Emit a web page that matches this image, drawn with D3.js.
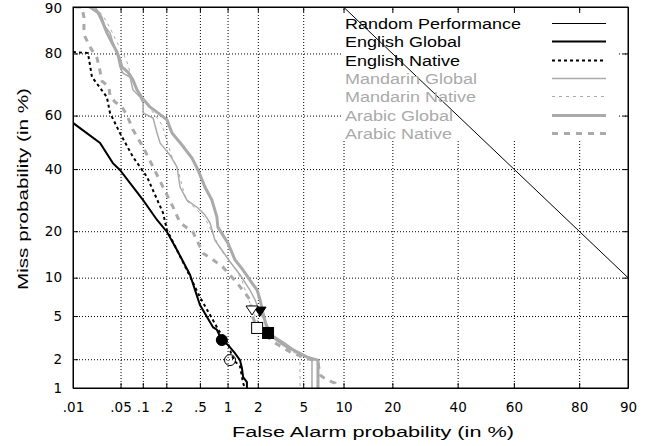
<!DOCTYPE html>
<html>
<head>
<meta charset="utf-8">
<script src="https://cdn.jsdelivr.net/npm/d3@7"></script>
<style>
  body { margin: 0; background: #fff; }
  svg { display: block; font-family: "Liberation Sans", Arial, Helvetica, sans-serif; }
  .grid line { stroke: #000; stroke-dasharray: 1,2; stroke-width: 1; }
  .grid path { display: none; }
  .axis path, .axis line { stroke: #000; }
</style>
</head>
<body>
<svg id="viz"></svg>
<script>
// tick values (in %)
const xTicks = [0.01, 0.05, 0.1, 0.2, 0.5, 1, 2, 5, 10, 20, 40, 60, 80, 90];
const xTickLabels = [".01", ".05", ".1", ".2", ".5", "1", "2", "5", "10", "20", "40", "60", "80", "90"];
const yTicks = [1, 2, 5, 10, 20, 40, 60, 80, 90];
const yTickLabels = ["1", "2", "5", "10", "20", "40", "60", "80", "90"];

// DET curves: [false alarm %, miss %]
const randomPerf = [[10, 90], [90, 10]];
const englishGlobal = [[0.01, 57.3], [0.0255, 49.8], [0.039, 42.2], [0.049, 39.7], [0.101, 29.2], [0.153, 23.1],
  [0.204, 19.8], [0.27, 15.4], [0.385, 10.5], [0.50, 6.2], [0.70, 4.0], [0.77, 3.8], [0.87, 3.06], [1.01, 2.75],
  [1.19, 2.30], [1.34, 1.96], [1.40, 1.63], [1.44, 1.31], [1.57, 1.16], [1.57, 1.0]];
const englishNative = [[0.01, 80.4], [0.0169, 80.1], [0.0194, 73.2], [0.032, 66.6], [0.0355, 61.0], [0.049, 53.5],
  [0.074, 44.5], [0.114, 37.1], [0.182, 25.2], [0.204, 20.3], [0.355, 11.3], [0.50, 7.15], [0.70, 4.6], [0.80, 3.78],
  [1.01, 2.87], [1.10, 2.2], [1.19, 1.9], [1.34, 1.7], [1.44, 1.13], [1.50, 1.0]];
const mandarinGlobal = [[0.0215, 90], [0.0272, 88.2], [0.0301, 86.3], [0.0355, 85.0], [0.0391, 82.7], [0.0445, 80.1],
  [0.049, 76.2], [0.054, 74.4], [0.0675, 73.2], [0.074, 69.0], [0.092, 66.6], [0.101, 64.5], [0.101, 61.0],
  [0.136, 59.1], [0.153, 53.5], [0.167, 49.8], [0.222, 45.2], [0.27, 40.8], [0.294, 33.6], [0.355, 29.2],
  [0.476, 26.7], [0.57, 24.6], [0.648, 22.3], [0.734, 17.7], [0.87, 15.4], [1.06, 12.9], [1.34, 10.5], [1.68, 8.1],
  [1.88, 6.8], [2.10, 5.3], [2.33, 4.6], [2.71, 3.41], [3.52, 2.87], [4.45, 2.36], [5.66, 2.06], [5.87, 1.96], [5.87, 1.0]];
const mandarinNative = [[0.0163, 90], [0.0255, 89.1], [0.029, 88.2], [0.0355, 86.1], [0.0417, 83.8], [0.0475, 81.9],
  [0.0557, 79.6], [0.0612, 77.7], [0.072, 72.6], [0.0866, 68.3], [0.114, 63.8], [0.144, 60.2], [0.177, 56.5],
  [0.21, 49.0], [0.235, 44.5], [0.278, 39.7], [0.31, 34.3], [0.346, 29.2], [0.44, 26.7], [0.57, 23.7], [0.68, 19.8],
  [0.83, 15.8], [0.985, 13.7], [1.19, 11.7], [1.40, 9.6], [1.57, 7.4], [1.68, 6.4], [1.76, 5.6], [2.01, 4.45],
  [2.39, 3.55], [3.06, 2.93], [3.89, 2.46], [4.71, 2.15], [4.71, 1.0]];
const arabicGlobal = [[0.0181, 90], [0.024, 89.0], [0.0281, 87.1], [0.0321, 85.0], [0.0379, 82.7], [0.0445, 80.4],
  [0.049, 78.2], [0.0523, 76.2], [0.0632, 74.7], [0.074, 72.3], [0.084, 69.0], [0.098, 66.3], [0.124, 63.1],
  [0.157, 61.0], [0.204, 58.4], [0.235, 53.5], [0.31, 49.0], [0.406, 44.1], [0.476, 39.7], [0.57, 33.6], [0.68, 29.2],
  [0.77, 24.0], [0.79, 21.1], [1.01, 17.0], [1.19, 13.3], [1.44, 11.3], [1.68, 9.6], [1.97, 8.1], [2.10, 6.8],
  [2.24, 5.3], [2.49, 3.55], [3.0, 3.06], [3.67, 2.63], [4.45, 2.36], [5.36, 2.10], [6.53, 1.96], [6.53, 1.0]];
const arabicNative = [[0.0108, 90], [0.0137, 90], [0.0147, 88.2], [0.0147, 85.8], [0.0153, 84.1], [0.0181, 81.7],
  [0.023, 78.8], [0.0255, 75.0], [0.0272, 71.9], [0.0343, 70.0], [0.0355, 67.0], [0.0417, 64.9], [0.0523, 63.1],
  [0.0612, 60.2], [0.074, 54.7], [0.101, 48.2], [0.136, 40.8], [0.182, 33.6], [0.242, 27.0], [0.294, 22.3],
  [0.417, 19.8], [0.542, 14.7], [0.70, 13.3], [0.89, 11.9], [1.25, 9.15], [1.50, 7.7], [1.68, 6.8], [1.76, 5.1],
  [1.97, 3.94], [2.33, 3.41], [2.88, 2.87], [3.89, 2.36], [5.17, 2.06], [6.53, 1.88], [6.76, 1.38], [7.62, 1.22],
  [8.71, 1.13], [8.71, 1.0]];

// operating points
const markers = [
  { fa: 0.87, miss: 3.06, shape: "circle", fill: "#000" },
  { fa: 1.06, miss: 1.96, shape: "circle", fill: "none" },
  { fa: 2.10, miss: 5.5, shape: "tri", fill: "#000" },
  { fa: 1.76, miss: 5.62, shape: "tri", fill: "#fff" },
  { fa: 2.49, miss: 3.55, shape: "square", fill: "#000" },
  { fa: 1.97, miss: 3.94, shape: "square", fill: "#fff" }
];

const GRAY = "#aaaaaa";
const series = [
  { name: "Random Performance", data: randomPerf, color: "#000", width: 1, dash: null, text: "#000" },
  { name: "English Global", data: englishGlobal, color: "#000", width: 2, dash: null, text: "#000" },
  { name: "English Native", data: englishNative, color: "#000", width: 2, dash: "3,3", text: "#000" },
  { name: "Mandarin Global", data: mandarinGlobal, color: GRAY, width: 1.5, dash: null, text: GRAY },
  { name: "Mandarin Native", data: mandarinNative, color: GRAY, width: 1, dash: "3,4", text: GRAY },
  { name: "Arabic Global", data: arabicGlobal, color: GRAY, width: 3, dash: null, text: GRAY },
  { name: "Arabic Native", data: arabicNative, color: GRAY, width: 3, dash: "6,6", text: GRAY }
];

// inverse normal CDF (Acklam)
function probit(p) {
  const a = [-3.969683028665376e+01, 2.209460984245205e+02, -2.759285104469687e+02, 1.383577518672690e+02, -3.066479806614716e+01, 2.506628277459239e+00];
  const b = [-5.447609879822406e+01, 1.615858368580409e+02, -1.556989798598866e+02, 6.680131188771972e+01, -1.328068155288572e+01];
  const c = [-7.784894002430293e-03, -3.223964580411365e-01, -2.400758277161838e+00, -2.549732539343734e+00, 4.374664141464968e+00, 2.938163982698783e+00];
  const d = [7.784695709041462e-03, 3.224671290700398e-01, 2.445134137142996e+00, 3.754408661907416e+00];
  const plow = 0.02425;
  let q, r;
  if (p < plow) {
    q = Math.sqrt(-2 * Math.log(p));
    return (((((c[0] * q + c[1]) * q + c[2]) * q + c[3]) * q + c[4]) * q + c[5]) / ((((d[0] * q + d[1]) * q + d[2]) * q + d[3]) * q + 1);
  } else if (p <= 1 - plow) {
    q = p - 0.5; r = q * q;
    return (((((a[0] * r + a[1]) * r + a[2]) * r + a[3]) * r + a[4]) * r + a[5]) * q / (((((b[0] * r + b[1]) * r + b[2]) * r + b[3]) * r + b[4]) * r + 1);
  }
  q = Math.sqrt(-2 * Math.log(1 - p));
  return -(((((c[0] * q + c[1]) * q + c[2]) * q + c[3]) * q + c[4]) * q + c[5]) / ((((d[0] * q + d[1]) * q + d[2]) * q + d[3]) * q + 1);
}
const pz = v => probit(v / 100);

const width = 650, height = 446;
const L = 73, R = 628, T = 7, B = 388;

const svg = d3.select("#viz").attr("width", width).attr("height", height);

const x = d3.scaleLinear().domain([pz(0.01), pz(90)]).range([L, R]);
const y = d3.scaleLinear().domain([pz(1), pz(90)]).range([B, T]);

// grid
svg.append("g").attr("class", "grid")
  .attr("transform", `translate(0,${B})`)
  .call(d3.axisBottom(x).tickValues(xTicks.slice(1, -1).map(pz)).tickSize(-(B - T)).tickFormat(""));
svg.append("g").attr("class", "grid")
  .attr("transform", `translate(${L},0)`)
  .call(d3.axisLeft(y).tickValues(yTicks.slice(1, -1).map(pz)).tickSize(-(R - L)).tickFormat(""));

// legend background
svg.append("rect").attr("x", 342).attr("y", 13).attr("width", 275).attr("height", 127).attr("fill", "#fff");

// clip
svg.append("clipPath").attr("id", "clip").append("rect")
  .attr("x", L).attr("y", T).attr("width", R - L).attr("height", B - T);

const line = d3.line().x(d => x(pz(d[0]))).y(d => y(pz(d[1])));

const plot = svg.append("g").attr("clip-path", "url(#clip)");
plot.selectAll("path.curve")
  .data(series.slice().reverse())
  .enter().append("path")
  .attr("class", "curve")
  .attr("d", d => line(d.data))
  .attr("fill", "none")
  .attr("stroke", d => d.color)
  .attr("stroke-width", d => d.width)
  .attr("stroke-dasharray", d => d.dash);

// markers
const mk = plot.selectAll("g.mk").data(markers).enter().append("g")
  .attr("transform", d => `translate(${x(pz(d.fa))},${y(pz(d.miss))})`);
mk.filter(d => d.shape === "circle").append("circle").attr("r", 5.5);
mk.filter(d => d.shape === "square").append("rect").attr("x", -5.5).attr("y", -5.5).attr("width", 11).attr("height", 11);
mk.filter(d => d.shape === "tri").append("path").attr("d", "M-6,-4L6,-4L0,5Z");
mk.selectAll("*").attr("fill", function () { return d3.select(this.parentNode).datum().fill; })
  .attr("stroke", "#000").attr("stroke-width", 1);

// legend
const leg = svg.append("g");
const rows = leg.selectAll("g").data(series).enter().append("g")
  .attr("transform", (d, i) => `translate(0,${Math.round(23 + i * 18.3) + 0.5})`);
rows.append("text").attr("x", 345).attr("dy", "0.36em")
  .attr("font-size", 15.5).attr("fill", d => d.text).text(d => d.name)
  .each(function () {
    const w = this.getComputedTextLength();
    d3.select(this).attr("textLength", w * 1.16).attr("lengthAdjust", "spacingAndGlyphs");
  });
rows.append("line").attr("x1", 552).attr("x2", 606)
  .attr("stroke", d => d.color).attr("stroke-width", d => d.width)
  .attr("stroke-dasharray", d => d.dash);

// axes
const tickFont = "DejaVu Sans, sans-serif";
svg.append("g").attr("class", "axis").attr("transform", `translate(0,${B})`)
  .call(d3.axisBottom(x).tickValues(xTicks.map(pz)).tickFormat((d, i) => xTickLabels[i]).tickSizeInner(-5).tickSizeOuter(0).tickPadding(14))
  .selectAll("text").attr("font-size", 13.5).attr("font-family", tickFont).attr("fill", "#000");
svg.append("g").attr("class", "axis").attr("transform", `translate(0,${T})`)
  .call(d3.axisTop(x).tickValues(xTicks.map(pz)).tickFormat("").tickSizeInner(-5).tickSizeOuter(0));
svg.append("g").attr("class", "axis").attr("transform", `translate(${L},0)`)
  .call(d3.axisLeft(y).tickValues(yTicks.map(pz)).tickFormat((d, i) => yTickLabels[i]).tickSizeInner(-5).tickSizeOuter(0).tickPadding(11))
  .selectAll("text").attr("font-size", 13.5).attr("font-family", tickFont).attr("fill", "#000")
  .attr("dy", (d, i) => i === yTicks.length - 1 ? "0.42em" : "0.32em");
svg.append("g").attr("class", "axis").attr("transform", `translate(${R},0)`)
  .call(d3.axisRight(y).tickValues(yTicks.map(pz)).tickFormat("").tickSizeInner(-5).tickSizeOuter(0));

svg.append("rect").attr("x", L).attr("y", T).attr("width", R - L).attr("height", B - T)
  .attr("fill", "none").attr("stroke", "#000").attr("stroke-width", 1);

// titles
svg.append("text").attr("x", 232).attr("y", 437)
  .attr("font-size", 15.5).attr("textLength", 282).attr("lengthAdjust", "spacingAndGlyphs")
  .text("False Alarm probability (in %)");
svg.append("text").attr("transform", "translate(28,290) rotate(-90)")
  .attr("font-size", 15.5).attr("textLength", 202).attr("lengthAdjust", "spacingAndGlyphs")
  .text("Miss probability (in %)");
</script>
</body>
</html>
